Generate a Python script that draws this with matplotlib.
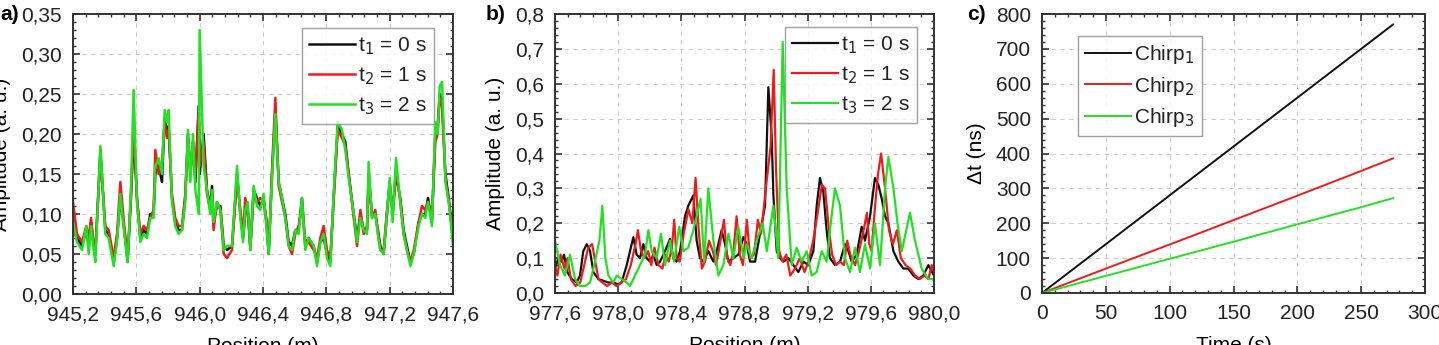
import numpy as np
import matplotlib
matplotlib.use("Agg")
import matplotlib.pyplot as plt
from matplotlib.ticker import MultipleLocator, FuncFormatter

plt.rcParams['font.family'] = ['Liberation Sans', 'DejaVu Sans']

# ---------------- Panel a data ----------------
pos_a = [945.200, 945.225, 945.257, 945.284, 945.299, 945.314, 945.331, 945.341, 945.373, 945.404,
         945.425, 945.457, 945.478, 945.499, 945.524, 945.545, 945.566, 945.583, 945.604, 945.625,
         945.646, 945.667, 945.688, 945.709, 945.720, 945.741, 945.762, 945.779, 945.794, 945.804,
         945.825, 945.846, 945.867, 945.888, 945.909, 945.926, 945.941, 945.958, 945.973, 945.994,
         946.000, 946.025, 946.046, 946.067, 946.078, 946.088, 946.109, 946.131, 946.152, 946.173,
         946.204, 946.236, 946.257, 946.274, 946.288, 946.303, 946.320, 946.341, 946.362, 946.383,
         946.404, 946.421, 946.436, 946.457, 946.478, 946.499, 946.520, 946.541, 946.562, 946.583,
         946.604, 946.625, 946.646, 946.667, 946.688, 946.720, 946.741, 946.762, 946.783, 946.804,
         946.825, 946.846, 946.872, 946.899, 946.920, 946.941, 946.973, 946.994, 947.015, 947.036,
         947.057, 947.067, 947.088, 947.109, 947.126, 947.141, 947.162, 947.183, 947.200, 947.219,
         947.240, 947.267, 947.288, 947.309, 947.331, 947.352, 947.383, 947.404, 947.425, 947.442,
         947.467, 947.488, 947.503, 947.516, 947.531, 947.552, 947.573, 947.600]
amp_a_t1 = [0.080, 0.070, 0.060, 0.080, 0.060, 0.090, 0.060, 0.050, 0.180, 0.080,
            0.075, 0.040, 0.070, 0.120, 0.080, 0.040, 0.120, 0.200, 0.120, 0.070,
            0.080, 0.075, 0.100, 0.100, 0.150, 0.160, 0.140, 0.220, 0.200, 0.210,
            0.120, 0.090, 0.080, 0.080, 0.120, 0.200, 0.150, 0.190, 0.140, 0.235,
            0.150, 0.200, 0.130, 0.110, 0.135, 0.090, 0.110, 0.110, 0.060, 0.055,
            0.060, 0.150, 0.100, 0.070, 0.100, 0.110, 0.060, 0.130, 0.120, 0.110,
            0.120, 0.090, 0.050, 0.150, 0.230, 0.140, 0.120, 0.100, 0.065, 0.060,
            0.080, 0.080, 0.120, 0.060, 0.070, 0.060, 0.040, 0.065, 0.070, 0.050,
            0.040, 0.120, 0.210, 0.200, 0.190, 0.150, 0.100, 0.070, 0.100, 0.080,
            0.080, 0.150, 0.100, 0.100, 0.080, 0.060, 0.050, 0.100, 0.140, 0.100,
            0.150, 0.120, 0.080, 0.060, 0.040, 0.050, 0.090, 0.100, 0.100, 0.120,
            0.090, 0.200, 0.210, 0.250, 0.240, 0.150, 0.120, 0.070]
amp_a_t2 = [0.115, 0.075, 0.065, 0.085, 0.070, 0.095, 0.060, 0.055, 0.170, 0.085,
            0.080, 0.045, 0.075, 0.140, 0.085, 0.045, 0.125, 0.210, 0.120, 0.075,
            0.085, 0.080, 0.095, 0.105, 0.180, 0.150, 0.165, 0.215, 0.195, 0.205,
            0.125, 0.095, 0.085, 0.085, 0.125, 0.195, 0.155, 0.180, 0.150, 0.230,
            0.160, 0.190, 0.125, 0.105, 0.120, 0.080, 0.115, 0.105, 0.050, 0.045,
            0.055, 0.145, 0.105, 0.075, 0.120, 0.105, 0.055, 0.125, 0.115, 0.120,
            0.115, 0.095, 0.055, 0.155, 0.245, 0.135, 0.115, 0.095, 0.060, 0.050,
            0.075, 0.085, 0.110, 0.065, 0.065, 0.055, 0.045, 0.070, 0.085, 0.055,
            0.045, 0.115, 0.205, 0.195, 0.185, 0.150, 0.095, 0.060, 0.105, 0.075,
            0.085, 0.145, 0.095, 0.105, 0.075, 0.055, 0.055, 0.105, 0.135, 0.105,
            0.155, 0.115, 0.075, 0.055, 0.040, 0.055, 0.090, 0.110, 0.105, 0.115,
            0.095, 0.190, 0.200, 0.245, 0.235, 0.145, 0.115, 0.075]
amp_a_t3 = [0.090, 0.065, 0.055, 0.085, 0.050, 0.085, 0.055, 0.040, 0.185, 0.075,
            0.070, 0.035, 0.065, 0.125, 0.075, 0.040, 0.130, 0.255, 0.115, 0.065,
            0.075, 0.070, 0.095, 0.095, 0.160, 0.170, 0.150, 0.230, 0.215, 0.230,
            0.115, 0.085, 0.075, 0.080, 0.115, 0.205, 0.140, 0.200, 0.130, 0.100,
            0.330, 0.160, 0.130, 0.100, 0.130, 0.090, 0.115, 0.105, 0.055, 0.060,
            0.060, 0.160, 0.095, 0.065, 0.105, 0.115, 0.055, 0.135, 0.110, 0.105,
            0.125, 0.085, 0.050, 0.145, 0.225, 0.140, 0.120, 0.095, 0.060, 0.055,
            0.080, 0.075, 0.120, 0.055, 0.070, 0.060, 0.035, 0.065, 0.075, 0.045,
            0.035, 0.125, 0.215, 0.205, 0.180, 0.145, 0.100, 0.065, 0.095, 0.080,
            0.075, 0.165, 0.095, 0.100, 0.075, 0.055, 0.050, 0.100, 0.145, 0.090,
            0.170, 0.115, 0.075, 0.055, 0.035, 0.050, 0.085, 0.100, 0.095, 0.115,
            0.085, 0.215, 0.200, 0.260, 0.265, 0.140, 0.115, 0.060]

# ---------------- Panel b data ----------------
pos_b_t1 = [977.600, 977.621, 977.642, 977.657, 977.678, 977.706, 977.737, 977.758, 977.779, 977.801,
            977.822, 977.843, 977.874, 977.906, 977.938, 977.969, 978.001, 978.022, 978.054, 978.096,
            978.117, 978.138, 978.159, 978.180, 978.202, 978.223, 978.244, 978.265, 978.297, 978.328,
            978.349, 978.370, 978.392, 978.423, 978.444, 978.476, 978.497, 978.518, 978.539, 978.571,
            978.603, 978.624, 978.655, 978.677, 978.698, 978.729, 978.761, 978.793, 978.814, 978.835,
            978.867, 978.898, 978.930, 978.951, 978.972, 978.983, 979.004, 979.025, 979.046, 979.078,
            979.109, 979.141, 979.173, 979.204, 979.236, 979.257, 979.278, 979.299, 979.320, 979.341,
            979.373, 979.405, 979.436, 979.458, 979.479, 979.510, 979.542, 979.563, 979.595, 979.626,
            979.648, 979.669, 979.690, 979.711, 979.743, 979.774, 979.806, 979.837, 979.869, 979.901,
            979.932, 979.964, 980.000]
amp_b_t1 = [0.07, 0.10, 0.09, 0.11, 0.06, 0.04, 0.03, 0.05, 0.12, 0.14,
            0.12, 0.06, 0.04, 0.035, 0.03, 0.03, 0.025, 0.03, 0.08, 0.16,
            0.11, 0.10, 0.14, 0.10, 0.09, 0.11, 0.08, 0.09, 0.12, 0.155,
            0.10, 0.09, 0.12, 0.22, 0.25, 0.28, 0.15, 0.10, 0.09, 0.12,
            0.09, 0.12, 0.18, 0.14, 0.09, 0.10, 0.11, 0.16, 0.14, 0.09,
            0.09, 0.17, 0.25, 0.59, 0.45, 0.28, 0.12, 0.10, 0.09, 0.10,
            0.08, 0.06, 0.09, 0.08, 0.12, 0.25, 0.33, 0.29, 0.18, 0.10,
            0.08, 0.09, 0.14, 0.12, 0.09, 0.11, 0.19, 0.15, 0.22, 0.33,
            0.31, 0.27, 0.22, 0.20, 0.12, 0.09, 0.07, 0.07, 0.05, 0.04,
            0.05, 0.08, 0.05]

pos_b_t2 = [977.600, 977.615, 977.635, 977.660, 977.680, 977.700, 977.730, 977.760, 977.790, 977.810,
            977.835, 977.855, 977.875, 977.900, 977.930, 977.960, 977.990, 978.020, 978.050, 978.080,
            978.110, 978.125, 978.145, 978.165, 978.190, 978.210, 978.230, 978.255, 978.280, 978.300,
            978.320, 978.340, 978.355, 978.370, 978.390, 978.415, 978.445, 978.470, 978.490, 978.510,
            978.530, 978.550, 978.575, 978.600, 978.620, 978.640, 978.670, 978.690, 978.710, 978.730,
            978.750, 978.770, 978.790, 978.815, 978.835, 978.860, 978.885, 978.905, 978.935, 978.965,
            978.985, 979.000, 979.020, 979.040, 979.065, 979.090, 979.120, 979.150, 979.180, 979.205,
            979.235, 979.260, 979.290, 979.310, 979.335, 979.355, 979.380, 979.405, 979.430, 979.450,
            979.470, 979.500, 979.525, 979.550, 979.575, 979.590, 979.605, 979.625, 979.645, 979.665,
            979.690, 979.715, 979.740, 979.765, 979.790, 979.820, 979.850, 979.880, 979.910, 979.940,
            979.965, 979.985, 980.000]
amp_b_t2 = [0.08, 0.05, 0.11, 0.07, 0.10, 0.04, 0.02, 0.03, 0.09, 0.13,
            0.14, 0.09, 0.04, 0.03, 0.02, 0.03, 0.02, 0.03, 0.04, 0.08,
            0.14, 0.18, 0.12, 0.10, 0.12, 0.08, 0.13, 0.08, 0.07, 0.11,
            0.09, 0.13, 0.21, 0.10, 0.09, 0.17, 0.24, 0.20, 0.33, 0.18,
            0.07, 0.09, 0.15, 0.12, 0.08, 0.13, 0.21, 0.10, 0.08, 0.12,
            0.22, 0.11, 0.08, 0.21, 0.10, 0.11, 0.21, 0.17, 0.30, 0.42,
            0.64, 0.35, 0.12, 0.09, 0.11, 0.05, 0.07, 0.10, 0.06, 0.09,
            0.15, 0.22, 0.31, 0.30, 0.18, 0.11, 0.08, 0.09, 0.08, 0.15,
            0.11, 0.08, 0.12, 0.17, 0.23, 0.14, 0.12, 0.24, 0.34, 0.40,
            0.30, 0.18, 0.14, 0.18, 0.10, 0.08, 0.07, 0.05, 0.04, 0.05,
            0.04, 0.08, 0.06]

pos_b_t3 = [977.600, 977.632, 977.663, 977.695, 977.727, 977.758, 977.790, 977.822, 977.853, 977.881,
            977.900, 977.919, 977.938, 977.969, 977.991, 978.022, 978.054, 978.075, 978.107, 978.138,
            978.170, 978.191, 978.212, 978.244, 978.271, 978.297, 978.328, 978.354, 978.387, 978.413,
            978.444, 978.476, 978.522, 978.544, 978.571, 978.603, 978.634, 978.666, 978.698, 978.729,
            978.761, 978.793, 978.814, 978.845, 978.877, 978.915, 978.941, 978.983, 979.014, 979.042,
            979.067, 979.099, 979.130, 979.162, 979.194, 979.225, 979.257, 979.289, 979.320, 979.346,
            979.373, 979.405, 979.436, 979.468, 979.500, 979.531, 979.563, 979.595, 979.626, 979.658,
            979.690, 979.711, 979.743, 979.769, 979.796, 979.848, 979.880, 979.922, 979.964, 980.000]
amp_b_t3 = [0.15, 0.08, 0.05, 0.11, 0.04, 0.02, 0.02, 0.03, 0.09, 0.15,
            0.25, 0.10, 0.05, 0.03, 0.05, 0.04, 0.03, 0.02, 0.05, 0.08,
            0.11, 0.18, 0.12, 0.10, 0.17, 0.08, 0.15, 0.09, 0.19, 0.12,
            0.13, 0.18, 0.27, 0.09, 0.30, 0.15, 0.05, 0.08, 0.17, 0.10,
            0.19, 0.10, 0.14, 0.10, 0.15, 0.20, 0.12, 0.25, 0.10, 0.72,
            0.30, 0.08, 0.13, 0.09, 0.12, 0.05, 0.06, 0.12, 0.09, 0.20,
            0.30, 0.25, 0.10, 0.06, 0.13, 0.06, 0.14, 0.07, 0.20, 0.08,
            0.30, 0.39, 0.30, 0.20, 0.12, 0.23, 0.15, 0.07, 0.04, 0.04]

# ---------------- Panel c data ----------------
time_c = [0, 50, 100, 150, 200, 250, 275]
chirp1 = [0, 140, 280, 420, 560, 700, 770]
chirp2 = [0, 70, 139, 209, 279, 350, 386]
chirp3 = [0, 49, 98, 147, 197, 246, 272]

labels_t = ['t$_1$ = 0 s', 't$_2$ = 1 s', 't$_3$ = 2 s']
labels_c = ['Chirp$_1$', 'Chirp$_2$', 'Chirp$_3$']
colors = ['#111111', '#ee1b1b', '#22e022']

FS = 15
fig = plt.figure(figsize=(14.39, 3.45), dpi=100)
axa = fig.add_axes([73/1439, 1-294/345, 380/1439, 280/345])
axb = fig.add_axes([555/1439, 1-293/345, 379/1439, 279/345])
axc = fig.add_axes([1042/1439, 1-293/345, 383/1439, 279/345])


def comma(fmt):
    return FuncFormatter(lambda v, p: fmt.format(v).replace('.', ','))


def style(ax):
    for s in ax.spines.values():
        s.set_linewidth(1.4)
        s.set_color('#333333')
    ax.tick_params(which='both', direction='in', top=True, right=True,
                   labelsize=FS, colors='#333333', labelcolor='#222222')
    ax.tick_params(which='major', length=5, width=1.2, pad=8)
    ax.tick_params(which='minor', length=2.5, width=1.0)
    ax.grid(True, which='major', linestyle=(0, (4, 4)), color='#cccccc', linewidth=0.8)
    ax.set_axisbelow(True)


# Panel a
for y, c, l in zip([amp_a_t1, amp_a_t2, amp_a_t3], colors, labels_t):
    axa.plot(pos_a, y, color=c, lw=1.8, label=l)
axa.set_xlim(945.2, 947.6)
axa.set_ylim(0, 0.35)
axa.xaxis.set_major_locator(MultipleLocator(0.4))
axa.xaxis.set_minor_locator(MultipleLocator(0.08))
axa.yaxis.set_major_locator(MultipleLocator(0.05))
axa.yaxis.set_minor_locator(MultipleLocator(0.01))
axa.xaxis.set_major_formatter(comma('{:.1f}'))
axa.yaxis.set_major_formatter(comma('{:.2f}'))
style(axa)
axa.set_xlabel('Position (m)', fontsize=FS, labelpad=9)
axa.set_ylabel('Amplitude (a. u.)', fontsize=FS, labelpad=7)

# Panel b
for x, y, c, l in zip([pos_b_t1, pos_b_t2, pos_b_t3], [amp_b_t1, amp_b_t2, amp_b_t3], colors, labels_t):
    axb.plot(x, y, color=c, lw=1.6, label=l)
axb.set_xlim(977.6, 980.0)
axb.set_ylim(0, 0.8)
axb.xaxis.set_major_locator(MultipleLocator(0.4))
axb.xaxis.set_minor_locator(MultipleLocator(0.08))
axb.yaxis.set_major_locator(MultipleLocator(0.1))
axb.yaxis.set_minor_locator(MultipleLocator(0.02))
axb.xaxis.set_major_formatter(comma('{:.1f}'))
axb.yaxis.set_major_formatter(comma('{:.1f}'))
style(axb)
axb.set_xlabel('Position (m)', fontsize=FS, labelpad=9)
axb.set_ylabel('Amplitude (a. u.)', fontsize=FS, labelpad=7)

# Panel c
for y, c, l in zip([chirp1, chirp2, chirp3], colors, labels_c):
    axc.plot(time_c, y, color=c, lw=1.4, label=l)
axc.set_xlim(0, 300)
axc.set_ylim(0, 800)
axc.xaxis.set_major_locator(MultipleLocator(50))
axc.xaxis.set_minor_locator(MultipleLocator(10))
axc.yaxis.set_major_locator(MultipleLocator(100))
axc.yaxis.set_minor_locator(MultipleLocator(20))
style(axc)
axc.set_xlabel('Time (s)', fontsize=FS, labelpad=9)
axc.set_ylabel('\u0394t (ns)', fontsize=FS, labelpad=7)

legkw = dict(fontsize=FS, frameon=True, fancybox=False, edgecolor='#888888',
             handlelength=2.2, handletextpad=0.15, labelspacing=0.4,
             borderpad=0.35, borderaxespad=0.0)
la = axa.legend(loc='upper right', bbox_to_anchor=(0.95, 0.95), **legkw)
lb = axb.legend(loc='upper right', bbox_to_anchor=(0.955, 0.953), **legkw)
lc = axc.legend(loc='upper left', bbox_to_anchor=(0.094, 0.921), **legkw)
for lg in (la, lb, lc):
    lg.get_frame().set_linewidth(1.0)
    for t in lg.get_texts():
        t.set_color('#222222')

fig.text(0/1439, 1-14/345, 'a)', fontsize=FS, fontweight='bold', va='center', ha='left')
fig.text(486/1439, 1-14/345, 'b)', fontsize=FS, fontweight='bold', va='center', ha='left')
fig.text(967/1439, 1-14/345, 'c)', fontsize=FS, fontweight='bold', va='center', ha='left')

fig.savefig('out.png', dpi=100)
